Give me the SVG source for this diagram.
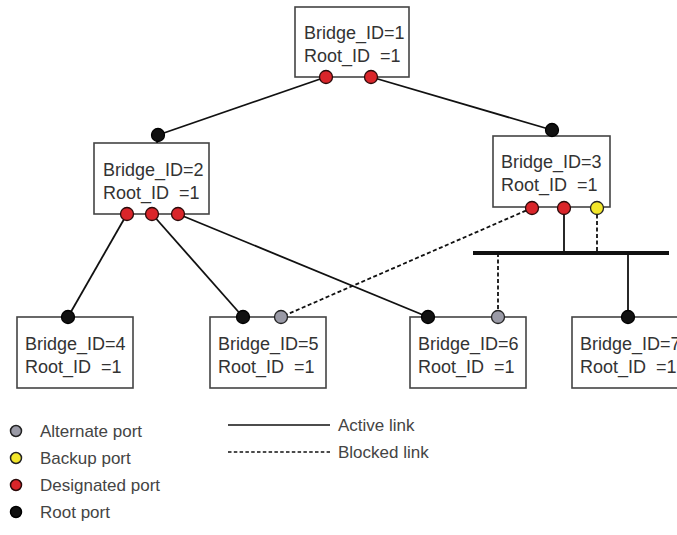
<svg xmlns="http://www.w3.org/2000/svg" width="677" height="535" viewBox="0 0 677 535">
<style>
.box{fill:#fff;stroke:#444;stroke-width:1.6}
.t{font-family:"Liberation Sans",Arial,sans-serif;font-size:18px;fill:#333;white-space:pre}
.lg{font-family:"Liberation Sans",Arial,sans-serif;font-size:17px;fill:#444}
.ln{stroke:#111;stroke-width:1.8;fill:none}
.dl{stroke:#111;stroke-width:1.8;fill:none;stroke-dasharray:4 2.5}
.des{fill:#d9252a;stroke:#2a0a0a;stroke-width:1.3}
.root{fill:#111;stroke:#000;stroke-width:1.3}
.alt{fill:#9a9aa6;stroke:#222;stroke-width:1.3}
.bak{fill:#f2e62a;stroke:#222;stroke-width:1.3}
</style>
<rect width="677" height="535" fill="#fff"/>
<g id="connectors">
<line class="ln" x1="326" y1="77" x2="158" y2="135"/>
<line class="ln" x1="371" y1="77" x2="552" y2="130"/>
<line class="ln" x1="127" y1="214" x2="68" y2="317"/>
<line class="ln" x1="152" y1="214" x2="243" y2="317"/>
<line class="ln" x1="178" y1="214" x2="428" y2="317"/>
<line class="dl" x1="532" y1="208" x2="281" y2="317"/>
<line class="ln" x1="564" y1="208" x2="564" y2="253"/>
<line class="dl" x1="597" y1="208" x2="597" y2="253"/>
<line x1="473" y1="253" x2="669" y2="253" stroke="#111" stroke-width="4"/>
<line class="dl" x1="498" y1="253" x2="498" y2="317"/>
<line class="ln" x1="628" y1="253" x2="628" y2="317"/>
</g>
<g id="bridge1">
<rect class="box" x="295" y="7" width="114" height="70"/>
<text class="t" x="304" y="39">Bridge_ID=1</text>
<text class="t" x="304" y="62">Root_ID  =1</text>
<circle class="des" cx="326" cy="77" r="6.5"/>
<circle class="des" cx="371" cy="77" r="6.5"/>
</g>
<g id="bridge2">
<rect class="box" x="94" y="143" width="115" height="71"/>
<line class="ln" x1="158" y1="135" x2="157" y2="143"/>
<text class="t" x="103" y="176">Bridge_ID=2</text>
<text class="t" x="103" y="199">Root_ID  =1</text>
<circle class="root" cx="158" cy="135" r="6.5"/>
<circle class="des" cx="127" cy="214" r="6.5"/>
<circle class="des" cx="152" cy="214" r="6.5"/>
<circle class="des" cx="178" cy="214" r="6.5"/>
</g>
<g id="bridge3">
<rect class="box" x="493" y="136" width="117" height="71"/>
<line class="ln" x1="552" y1="130" x2="551" y2="136"/>
<text class="t" x="501" y="168">Bridge_ID=3</text>
<text class="t" x="501" y="191">Root_ID  =1</text>
<circle class="root" cx="552" cy="130" r="6.5"/>
<circle class="des" cx="532" cy="208" r="6.5"/>
<circle class="des" cx="564" cy="208" r="6.5"/>
<circle class="bak" cx="597" cy="208" r="6.5"/>
</g>
<g id="bridge4">
<rect class="box" x="17" y="317" width="116" height="71"/>
<text class="t" x="25" y="350">Bridge_ID=4</text>
<text class="t" x="25" y="373">Root_ID  =1</text>
<circle class="root" cx="68" cy="317" r="6.5"/>
</g>
<g id="bridge5">
<rect class="box" x="210" y="317" width="116" height="71"/>
<text class="t" x="218" y="350">Bridge_ID=5</text>
<text class="t" x="218" y="373">Root_ID  =1</text>
<circle class="root" cx="243" cy="317" r="6.5"/>
<circle class="alt" cx="281" cy="317" r="6.5"/>
</g>
<g id="bridge6">
<rect class="box" x="410" y="317" width="116" height="71"/>
<text class="t" x="418" y="350">Bridge_ID=6</text>
<text class="t" x="418" y="373">Root_ID  =1</text>
<circle class="root" cx="428" cy="317" r="6.5"/>
<circle class="alt" cx="498" cy="317" r="6.5"/>
</g>
<g id="bridge7">
<rect class="box" x="572" y="317" width="116" height="71"/>
<text class="t" x="580" y="350">Bridge_ID=7</text>
<text class="t" x="580" y="373">Root_ID  =1</text>
<circle class="root" cx="628" cy="317" r="6.5"/>
</g>
<g id="legend">
<circle cx="16" cy="431" r="5.5" fill="#9a9aa6" stroke="#222" stroke-width="1.5"/>
<circle cx="16" cy="458" r="5.5" fill="#f2e62a" stroke="#222" stroke-width="1.5"/>
<circle cx="16" cy="485" r="5.5" fill="#d9252a" stroke="#2a0a0a" stroke-width="1.5"/>
<circle cx="16" cy="512" r="5.5" fill="#111" stroke="#000" stroke-width="1.5"/>
<text class="lg" x="40" y="437">Alternate port</text>
<text class="lg" x="40" y="464">Backup port</text>
<text class="lg" x="40" y="491">Designated port</text>
<text class="lg" x="40" y="518">Root port</text>
<line x1="228" y1="425" x2="330" y2="425" stroke="#111" stroke-width="1.6"/>
<line x1="228" y1="452" x2="330" y2="452" stroke="#111" stroke-width="1.4" stroke-dasharray="3.5 2.3"/>
<text class="lg" x="338" y="431">Active link</text>
<text class="lg" x="338" y="458">Blocked link</text>
</g>
</svg>
